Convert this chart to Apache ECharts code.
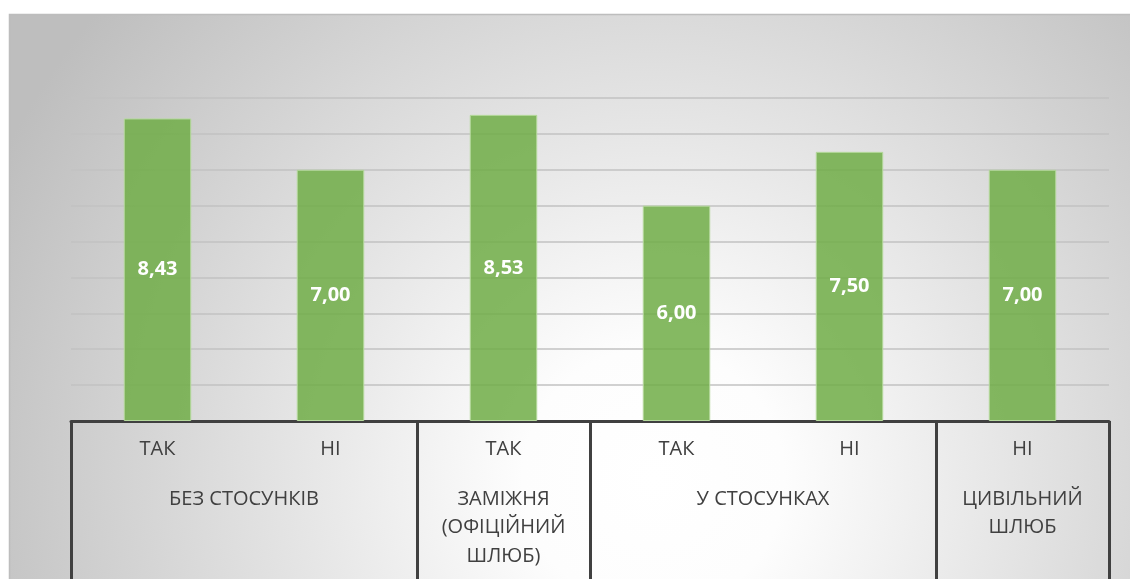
<!DOCTYPE html>
<html>
<head>
<meta charset="utf-8">
<script src="https://cdn.jsdelivr.net/npm/echarts@6/dist/echarts.min.js"></script>
<style>html,body{margin:0;padding:0;background:#fff;}#c{width:1130px;height:579px;}</style>
</head>
<body>
<div id="c"></div>
<script>
// Data
const categories = ['ТАК', 'НІ', 'ТАК', 'ТАК', 'НІ', 'НІ'];
const values = [8.43, 7.00, 8.53, 6.00, 7.50, 7.00];
const groupNames = ['БЕЗ СТОСУНКІВ', 'ЗАМІЖНЯ\n(ОФІЦІЙНИЙ\nШЛЮБ)', 'У СТОСУНКАХ', 'ЦИВІЛЬНИЙ\nШЛЮБ'];
const groupSpans = [2, 1, 2, 1];

// derived group positions
const groupBounds = [0];
groupSpans.forEach(s => groupBounds.push(groupBounds[groupBounds.length - 1] + s));
const groupCenters = groupSpans.map((s, i) => groupBounds[i] + s / 2);

const chart = echarts.init(document.getElementById('c'), null, {renderer: 'canvas'});
const fontFam = '"Open Sans", "Noto Sans", sans-serif';
chart.setOption({
  backgroundColor: '#ffffff',
  animation: false,
  graphic: [{
    type: 'rect',
    z: -10,
    shape: {x: 9.5, y: 14.5, width: 1130, height: 580},
    style: {
      fill: new echarts.graphic.RadialGradient(0.57, 0.8, 1.25, [
        {offset: 0, color: '#ffffff'},
        {offset: 0.18, color: '#fdfdfd'},
        {offset: 1, color: '#bebebe'}
      ]),
      stroke: '#bdbdbd',
      lineWidth: 1.5
    }
  }],
  grid: {left: 71, right: 21, top: 98, bottom: 158, containLabel: false},
  xAxis: [{
    type: 'category',
    data: categories,
    position: 'bottom',
    axisLine: {show: true, lineStyle: {color: '#404040', width: 3}},
    axisTick: {show: false},
    axisLabel: {color: '#404040', fontSize: 20, fontFamily: fontFam, margin: 18, interval: 0}
  }, {
    type: 'value',
    min: 0,
    max: categories.length,
    position: 'bottom',
    axisLine: {show: false},
    splitLine: {show: false},
    axisTick: {
      show: true,
      customValues: groupBounds,
      length: 162,
      lineStyle: {color: '#404040', width: 3}
    },
    axisLabel: {
      customValues: groupCenters,
      formatter: function (v) {
        const i = groupCenters.findIndex(c => Math.abs(c - v) < 1e-6);
        return i >= 0 ? groupNames[i] : '';
      },
      color: '#404040', fontSize: 20, fontFamily: fontFam,
      lineHeight: 28.5, margin: 64, align: 'center', verticalAlign: 'top'
    }
  }],
  yAxis: {
    type: 'value',
    min: 0, max: 9, interval: 1,
    axisLine: {show: false},
    axisTick: {show: false},
    axisLabel: {show: false},
    splitLine: {show: true, lineStyle: {color: '#c2c2c2', width: 1.5}}
  },
  series: [{
    type: 'bar',
    data: values,
    xAxisIndex: 0,
    barWidth: '39%',
    itemStyle: {color: 'rgba(112,173,71,0.85)', borderColor: '#b5d99c', borderWidth: 1},
    label: {
      show: true,
      position: 'inside',
      color: '#ffffff',
      fontSize: 20,
      fontWeight: 'bold',
      fontFamily: fontFam,
      formatter: p => p.value.toFixed(2).replace('.', ',')
    }
  }]
});
</script>
</body>
</html>
